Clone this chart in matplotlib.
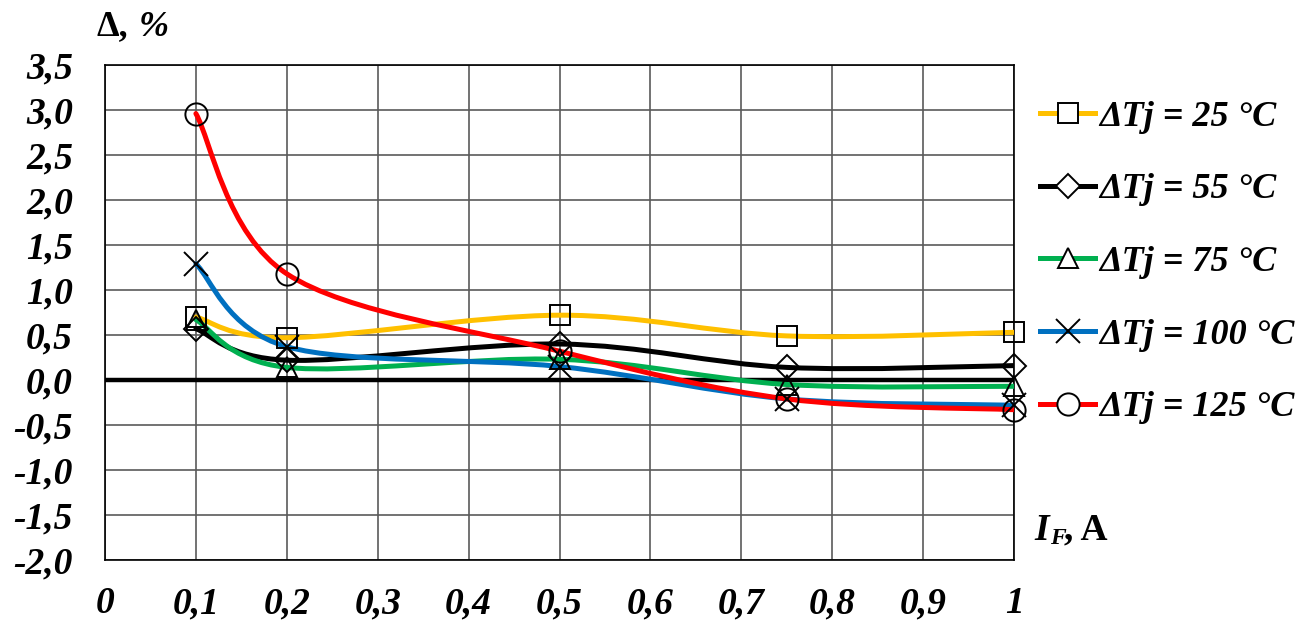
import matplotlib
matplotlib.use("Agg")
import matplotlib.pyplot as plt
from matplotlib.path import Path
from matplotlib.patches import PathPatch
from matplotlib.lines import Line2D
from matplotlib.ticker import FuncFormatter

# Forward current, A
current = [0.1, 0.2, 0.5, 0.75, 1.0]

# Deviation, % for each junction temperature rise
dev_25 = [0.70, 0.47, 0.72, 0.49, 0.53]
dev_55 = [0.57, 0.22, 0.40, 0.14, 0.16]
dev_75 = [0.67, 0.14, 0.23, -0.05, -0.07]
dev_100 = [1.29, 0.37, 0.15, -0.21, -0.28]
dev_125 = [2.96, 1.18, 0.32, -0.21, -0.33]

labels = ["ΔTj = 25 °C", "ΔTj = 55 °C", "ΔTj = 75 °C",
          "ΔTj = 100 °C", "ΔTj = 125 °C"]
series = [dev_25, dev_55, dev_75, dev_100, dev_125]
colors = ["#FFC000", "#000000", "#00B050", "#0070C0", "#FF0000"]
markers = ["s", "D", "^", "x", "o"]
msizes = [15, 12, 15, 17, 16]

x_ticks = [0, 0.1, 0.2, 0.3, 0.4, 0.5, 0.6, 0.7, 0.8, 0.9, 1.0]
y_ticks = [-2.0, -1.5, -1.0, -0.5, 0.0, 0.5, 1.0, 1.5, 2.0, 2.5, 3.0, 3.5]

SERIF = "Liberation Serif"
W, H = 1305, 621
TICK_FS = 27
LEG_FS = 26


def smooth_path(xs, ys):
    """Smoothed polyline through the points as cubic Bezier segments."""
    pts = list(zip(xs, ys))
    n = len(pts)
    verts = [pts[0]]
    codes = [Path.MOVETO]
    for i in range(n - 1):
        p0 = pts[i - 1] if i > 0 else pts[i]
        p1 = pts[i]
        p2 = pts[i + 1]
        p3 = pts[i + 2] if i + 2 < n else pts[i + 1]
        c1 = (p1[0] + (p2[0] - p0[0]) / 6, p1[1] + (p2[1] - p0[1]) / 6)
        c2 = (p2[0] - (p3[0] - p1[0]) / 6, p2[1] - (p3[1] - p1[1]) / 6)
        verts += [c1, c2, p2]
        codes += [Path.CURVE4] * 3
    return Path(verts, codes)


def x_label(v, _):
    if abs(v) < 1e-9:
        return "0"
    if abs(v - 1) < 1e-9:
        return "1"
    return f"{v:.1f}".replace(".", ",")


def y_label(v, _):
    return f"{v:.1f}".replace(".", ",").replace("-0,0", "0,0")


fig = plt.figure(figsize=(W / 100, H / 100), dpi=100)
ax = fig.add_axes([105 / W, 1 - 560 / H, (1014 - 105) / W, (560 - 65) / H])

ax.set_xlim(0, 1)
ax.set_ylim(-2.0, 3.5)
ax.set_xticks(x_ticks)
ax.set_yticks(y_ticks)
ax.grid(True, color="#5a5a5a", lw=1.2)
ax.set_axisbelow(True)
for s in ax.spines.values():
    s.set_color("black")
    s.set_linewidth(1.2)
ax.tick_params(length=0)
ax.tick_params(axis="x", pad=19)
ax.tick_params(axis="y", pad=23)
ax.xaxis.set_major_formatter(FuncFormatter(x_label))
ax.yaxis.set_major_formatter(FuncFormatter(y_label))
for lab in ax.get_xticklabels() + ax.get_yticklabels():
    lab.set_fontfamily(SERIF)
    lab.set_fontstyle("italic")
    lab.set_fontweight("bold")
    lab.set_fontsize(TICK_FS)

# zero reference line
ax.axhline(0, color="black", lw=3.2, zorder=2)

handles = []
for ys, c, m, ms in zip(series, colors, markers, msizes):
    patch = PathPatch(smooth_path(current, ys), fill=False, edgecolor=c,
                      lw=3.6, zorder=3, capstyle="round")
    ax.add_patch(patch)
    ax.plot(current, ys, linestyle="none", marker=m, ms=ms, mfc="none",
            mec="black", mew=1.4, zorder=4, clip_on=False)
    handles.append(Line2D([], [], color=c, lw=3.6, marker=m, ms=ms,
                          mfc="white", mec="black", mew=1.4))

fig.legend(handles, labels, loc="upper left",
           bbox_to_anchor=(1026 / W, 1 - 86 / H),
           frameon=False, handlelength=1.52, handletextpad=0.1,
           labelspacing=1.09, borderaxespad=0,
           prop=dict(family=SERIF, style="italic", weight="bold", size=LEG_FS))

# axis titles
fig.text(97 / W, 1 - 27 / H, "Δ,", family=SERIF, weight="bold", size=26,
         va="center", ha="left")
fig.text(139 / W, 1 - 27 / H, "%", family=SERIF, weight="bold",
         style="italic", size=26, va="center", ha="left")

fig.text(1034 / W, 1 - 530 / H, "I", family=SERIF, weight="bold",
         style="italic", size=27, va="center", ha="left")
fig.text(1050 / W, 1 - 538 / H, "F", family=SERIF, weight="bold",
         style="italic", size=17, va="center", ha="left")
fig.text(1064 / W, 1 - 530 / H, ", A", family=SERIF, weight="bold",
         size=27, va="center", ha="left")

fig.savefig("out.png", dpi=100)
